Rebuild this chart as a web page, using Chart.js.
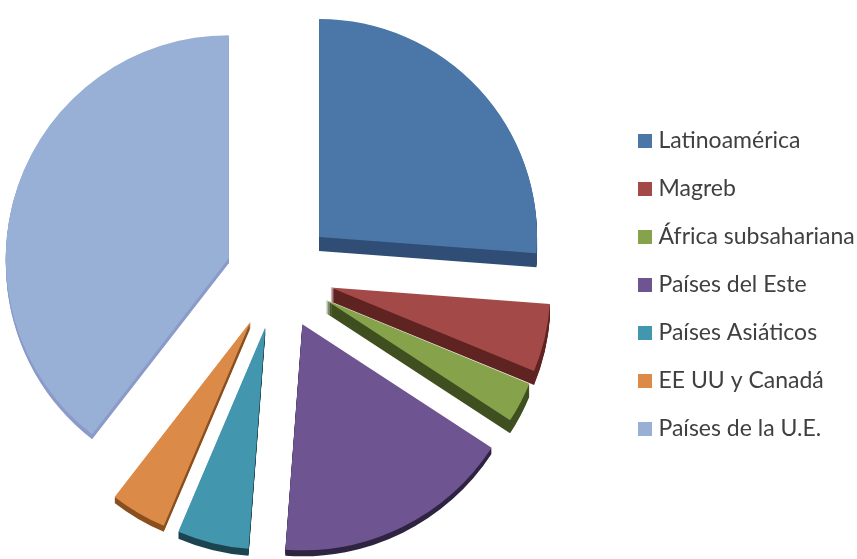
<!DOCTYPE html>
<html>
<head>
<meta charset="utf-8">
<script src="https://cdn.jsdelivr.net/npm/chart.js@4"></script>
<style>
  html, body { margin: 0; padding: 0; background: #fff; }
  #wrap { width: 857px; height: 559px; overflow: hidden; }
</style>
</head>
<body>
<div id="wrap"><canvas id="chart_pie"></canvas></div>
<script>
const categories = ['Latinoamérica', 'Magreb', 'África subsahariana', 'Países del Este', 'Países Asiáticos', 'EE UU y Canadá', 'Países de la U.E.'];
const values = [26.2, 5, 3, 17, 5.2, 4.1, 39.5];
const faceColors = ['#4a76a8', '#a34a48', '#86a34c', '#6e5490', '#4297ae', '#db8a48', '#98afd6'];
const sideColors = ['#2f4d75', '#5f2322', '#3f4f1f', '#2f2342', '#1c4350', '#8a4f1e', '#8a9bc9'];
const gaps = [56, 54, 54, 55, 54, 54, 52];
const radii = [218, 220, 220, 226, 222, 222, 223];
const depths = [14, 14, 13, 6, 7, 6, 5];

// exploded slices: move each arc out along its middle angle
const explode = {
  id: 'explode',
  afterDatasetsUpdate(chart) {
    chart.getDatasetMeta(0).data.forEach((arc, i) => {
      const mid = (arc.startAngle + arc.endAngle) / 2;
      arc.x += Math.cos(mid) * gaps[i];
      arc.y += Math.sin(mid) * gaps[i];
      arc.outerRadius = radii[i];
    });
  }
};

// side walls of the slices, drawn under the faces
const sidePlugin = {
  id: 'sides',
  beforeDatasetsDraw(chart) {
    const ctx = chart.ctx;
    chart.getDatasetMeta(0).data.forEach((arc, i) => {
      ctx.save();
      ctx.fillStyle = sideColors[i];
      for (let d = 1; d <= depths[i]; d++) {
        ctx.beginPath();
        ctx.moveTo(arc.x, arc.y + d);
        ctx.arc(arc.x, arc.y + d, arc.outerRadius, arc.startAngle, arc.endAngle);
        ctx.closePath();
        ctx.fill();
      }
      ctx.restore();
    });
  }
};

// pie centre and legend are not where the default layout puts them
const layoutNudge = {
  id: 'layoutNudge',
  afterLayout(chart) {
    const legend = chart.legend;
    legend.left = 618;
    legend.top += 10;
    legend.bottom += 10;
    chart.chartArea.left = 556 - chart.chartArea.right;
  }
};

new Chart(document.getElementById('chart_pie'), {
  type: 'pie',
  data: {
    labels: categories,
    datasets: [{
      data: values,
      backgroundColor: faceColors,
      borderWidth: 0,
      clip: false
    }]
  },
  plugins: [explode, sidePlugin, layoutNudge],
  options: {
    responsive: true,
    maintainAspectRatio: false,
    animation: false,
    layout: { padding: { bottom: 9 } },
    plugins: {
      tooltip: { enabled: false },
      legend: {
        position: 'right',
        labels: {
          usePointStyle: true,
          pointStyle: 'rect',
          boxWidth: 4,
          boxHeight: 14,
          padding: 25,
          color: '#404040',
          font: { family: 'Lato', size: 23 }
        }
      }
    }
  }
});
</script>
</body>
</html>
